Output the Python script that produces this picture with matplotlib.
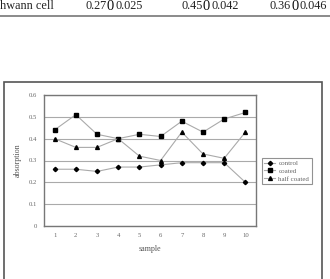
import numpy as np
import matplotlib.pyplot as plt
from matplotlib.patches import Rectangle
from matplotlib.lines import Line2D

samples = [1, 2, 3, 4, 5, 6, 7, 8, 9, 10]
control = [0.26, 0.26, 0.25, 0.27, 0.27, 0.28, 0.29, 0.29, 0.29, 0.20]
coated = [0.44, 0.51, 0.42, 0.40, 0.42, 0.41, 0.48, 0.43, 0.49, 0.52]
half_coated = [0.40, 0.36, 0.36, 0.40, 0.32, 0.30, 0.43, 0.33, 0.31, 0.43]
series_names = ['control', 'coated', 'half coated']
table_row = ['hwann cell', '0.27', '0.025', '0.45', '0.042', '0.36', '0.046']

plt.rcParams['font.family'] = ['Liberation Serif', 'DejaVu Serif']

fig = plt.figure(figsize=(3.3, 2.79), dpi=100)
W, H = 330, 279

# table fragment at the top
fig.text(0 / W, 1 - 6 / H, table_row[0], fontsize=8.8, va='center', ha='left', color='#222222')
for i, xs in enumerate([85, 181, 270]):
    fig.text(xs / W, 1 - 6 / H, table_row[1 + 2 * i], fontsize=8.8, va='center', ha='left', color='#222222')
    fig.text((xs + 21.5) / W, 1 - 6.5 / H, '0', fontsize=10.5, va='center', ha='left', color='#111111')
    fig.text((xs + 30) / W, 1 - 6 / H, table_row[2 + 2 * i], fontsize=8.8, va='center', ha='left', color='#222222')
fig.add_artist(Line2D([0, 1], [1 - 16 / H, 1 - 16 / H], color='#777777', lw=1.2))

# outer chart frame
fig.add_artist(Rectangle((4 / W, -0.02), (322 - 4) / W, 1 - 82 / H + 0.02,
                         fill=False, ec='#555555', lw=1.2))

ax = fig.add_axes([44 / W, 1 - 226 / H, (256 - 44) / W, (226 - 95) / H])
x = np.arange(len(samples))
ax.plot(x, control, color='#aaaaaa', lw=0.8, marker='D', ms=2.2, mfc='black', mec='black', label=series_names[0])
ax.plot(x, coated, color='#aaaaaa', lw=0.8, marker='s', ms=3.2, mfc='black', mec='black', label=series_names[1])
ax.plot(x, half_coated, color='#aaaaaa', lw=0.8, marker='^', ms=2.8, mfc='black', mec='black', label=series_names[2])

ax.set_xlim(-0.5, len(samples) - 0.5)
ax.set_ylim(0, 0.6)
ax.set_yticks(np.arange(0, 0.61, 0.1))
ax.set_yticklabels(['0', '0.1', '0.2', '0.3', '0.4', '0.5', '0.6'])
ax.set_xticks(x)
ax.set_xticklabels([str(s) for s in samples])
ax.tick_params(labelsize=4.8, colors='#666666', length=0, pad=5)
ax.yaxis.grid(True, color='#aaaaaa', lw=0.8)
ax.set_axisbelow(True)
for sp in ax.spines.values():
    sp.set_color('#777777')
    sp.set_linewidth(1.0)
ax.set_xlabel('sample', fontsize=5.8, color='#555555', labelpad=5)
ax.set_ylabel('absorption', fontsize=5.8, color='#555555', labelpad=5)

leg = ax.legend(loc='center left', bbox_to_anchor=(1.01, 0.42), fontsize=5,
                frameon=True, fancybox=False, handlelength=1.6, borderpad=0.4,
                labelspacing=0.25, handletextpad=0.4)
leg.get_frame().set_edgecolor('#777777')
leg.get_frame().set_linewidth(0.8)
for t in leg.get_texts():
    t.set_color('#666666')

fig.savefig('out.png', dpi=100)
